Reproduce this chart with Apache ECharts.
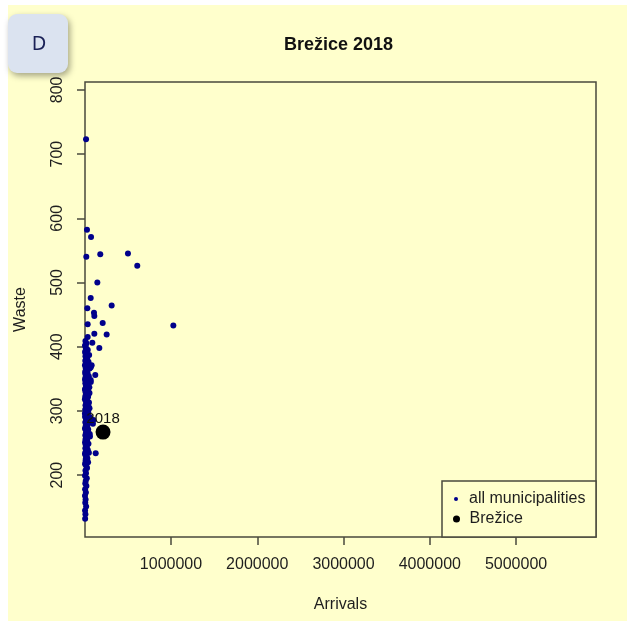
<!DOCTYPE html>
<html>
<head>
<meta charset="utf-8">
<script src="https://cdn.jsdelivr.net/npm/echarts@6/dist/echarts.min.js"></script>
<style>
html,body{margin:0;padding:0;background:#ffffff;}
#chart{width:627px;height:626px;}
</style>
</head>
<body>
<div id="chart"></div>
<script>
// ---- data ----
const titleText = 'Brežice 2018';
const badgeText = 'D';
const xName = 'Arrivals';
const yName = 'Waste';
const seriesNames = ['all municipalities', 'Brežice'];
const xTicks = [1000000, 2000000, 3000000, 4000000, 5000000];
const yTicks = [200, 300, 400, 500, 600, 700, 800];

// all municipalities: arrivals and waste (kg per capita)
const allArrivals = [
  15000, 26000, 73000, 18000, 180000, 501000, 609000, 146000, 69000, 30000,
  312000, 107000, 111000, 34000, 208000, 1027000, 34000, 111000, 254000, 88000,
  169000, 122000, 70000, 69000, 127000, 75000, 95000, 60000, 80000, 70000,
  55000, 100000, 60000,
  12000, 35000, 4000, 22000, 51000, 8000, 15000, 29000, 6000, 44000,
  18000, 2500, 38000, 11000, 57000, 24000, 5000, 33000, 14000, 47000,
  9000, 27000, 3000, 19000, 41000, 7000, 31000, 13000, 53000, 21000,
  4500, 36000, 16000, 10000, 45000, 26000, 6500, 39000, 17000, 2000,
  30000, 12500, 49000, 23000, 8500, 34000, 15500, 55000, 5500, 28000,
  20000, 42000, 9500, 32000, 3500, 25000, 60000, 14500, 37000, 7500,
  46000, 18000, 11500, 29500, 4200, 40000, 22500, 13500, 58000, 6800,
  33500, 19500, 9000, 27500, 3800, 43000, 16500, 24500, 7200, 35500,
  12200, 48000, 5200, 21500, 30500, 10500, 38500, 4800, 17500, 26500,
  8200, 14200, 3300, 23500, 11200, 6200, 19200, 4100, 13200, 2800,
  9800, 5800, 15800, 3600, 7800, 4400,
  20500, 9200, 30000, 1500, 25500, 16200, 6300, 37500, 11800, 28500,
  3400, 50000, 18800, 8800, 24200, 42000, 13800, 2200, 31500, 10200,
  22000, 5600, 36000, 15000, 27000, 9400, 19000, 4300, 12800, 7000,
  20000, 7700, 3000
];
const allWaste = [
  723, 582, 571, 540, 544, 545, 526, 500, 476, 460,
  464, 453, 448, 435, 437, 433, 415, 420, 419, 406,
  398, 356, 368, 348, 234, 285, 280, 290, 371, 345,
  328, 286, 260,
  398, 395, 392, 389, 387, 385, 383, 380, 378, 376,
  374, 371, 369, 367, 366, 363, 361, 359, 357, 354,
  352, 350, 349, 347, 345, 343, 341, 339, 337, 336,
  334, 332, 330, 329, 327, 325, 323, 322, 320, 318,
  316, 315, 313, 311, 309, 307, 306, 304, 302, 300,
  298, 297, 295, 293, 291, 290, 288, 286, 284, 282,
  281, 279, 277, 275, 273, 271, 269, 266, 264, 262,
  260, 258, 256, 253, 251, 249, 247, 244, 242, 239,
  237, 235, 232, 229, 226, 223, 220, 217, 214, 211,
  207, 203, 199, 195, 191, 187, 183, 178, 173, 168,
  162, 157, 151, 145, 139, 132,
  397, 390, 384, 377, 371, 365, 358, 352, 346, 340,
  333, 328, 324, 319, 312, 308, 303, 296, 289, 283,
  278, 272, 267, 261, 255, 248, 241, 234, 226, 219,
  405, 409, 402
];
// highlighted municipality
const brezArrivals = [212000];
const brezWaste = [267];
const brezLabels = ['2018'];

const allData = allArrivals.map((a, i) => [a, allWaste[i]]);
const brezData = brezArrivals.map((a, i) => [a, brezWaste[i]]);

const font = 'Liberation Sans, Arial, Helvetica, sans-serif';
const lineCol = '#4a4a3c';
const textCol = '#1e1e1e';

const chart = echarts.init(document.getElementById('chart'), null, {renderer: 'canvas'});
chart.setOption({
  backgroundColor: '#ffffff',
  animation: false,
  graphic: [
    {type: 'rect', z: -100, silent: true,
     shape: {x: 8, y: 5, width: 619, height: 616},
     style: {fill: '#ffffcc'}},
    {type: 'rect', z: 100, silent: true,
     shape: {x: 8, y: 14, width: 60, height: 59, r: 9},
     style: {fill: '#dbe3f0', shadowBlur: 6, shadowOffsetX: 2, shadowOffsetY: 3, shadowColor: 'rgba(0,0,0,0.35)'}},
    {type: 'text', z: 101, silent: true,
     style: {text: badgeText, x: 39, y: 44, align: 'center', verticalAlign: 'middle',
             font: '20px "Noto Sans", sans-serif', fill: '#1a2157'}},
    {type: 'rect', z: 50, silent: true,
     shape: {x: 442, y: 481, width: 154, height: 56},
     style: {fill: '#ffffcc', stroke: lineCol, lineWidth: 1.5}}
  ],
  title: {
    text: titleText,
    left: 284, top: 36, padding: 0,
    textStyle: {fontFamily: font, fontSize: 18, fontWeight: 'bold', color: '#111'}
  },
  legend: [
    {
      data: [seriesNames[0]], orient: 'vertical', left: 454, top: 491, padding: 0,
      itemWidth: 16, itemHeight: 4, icon: 'circle', z: 60,
      textStyle: {fontFamily: font, fontSize: 16, color: textCol}
    },
    {
      data: [seriesNames[1]], orient: 'vertical', left: 453, top: 511, padding: 0,
      itemWidth: 16, itemHeight: 7, icon: 'circle', z: 60,
      textStyle: {fontFamily: font, fontSize: 16, color: textCol}
    }
  ],
  grid: {
    left: 85, right: 31, top: 82, bottom: 89,
    show: true, borderColor: lineCol, borderWidth: 1.5, backgroundColor: 'transparent'
  },
  xAxis: {
    type: 'value', min: 2900, max: 5927000,
    name: xName, nameLocation: 'middle', nameGap: 60,
    nameTextStyle: {fontFamily: font, fontSize: 16, color: textCol},
    axisLine: {show: false},
    axisTick: {show: true, length: 8, customValues: xTicks, lineStyle: {color: lineCol, width: 1.5}},
    axisLabel: {customValues: xTicks, margin: 20, fontFamily: font, fontSize: 16, color: textCol,
                formatter: (v) => String(Math.round(v))},
    splitLine: {show: false}
  },
  yAxis: {
    type: 'value', min: 103.6, max: 812.3,
    name: yName, nameLocation: 'middle', nameGap: 56,
    nameTextStyle: {fontFamily: font, fontSize: 16, color: textCol},
    axisLine: {show: false},
    axisTick: {show: true, length: 8, customValues: yTicks, lineStyle: {color: lineCol, width: 1.5}},
    axisLabel: {customValues: yTicks, rotate: 90, margin: 19, fontFamily: font, fontSize: 16, color: textCol,
                formatter: (v) => String(Math.round(v))},
    splitLine: {show: false}
  },
  series: [
    {
      name: seriesNames[1], type: 'scatter', data: brezData,
      symbol: 'circle', symbolSize: 15,
      itemStyle: {color: '#000000', opacity: 1},
      label: {show: true, position: 'top', distance: -2,
              formatter: (p) => brezLabels[p.dataIndex],
              fontFamily: font, fontSize: 15, color: '#111'}
    },
    {
      name: seriesNames[0], type: 'scatter', data: allData,
      symbol: 'circle', symbolSize: 6,
      itemStyle: {color: '#00008b', opacity: 1}
    }
  ]
});
</script>
</body>
</html>
